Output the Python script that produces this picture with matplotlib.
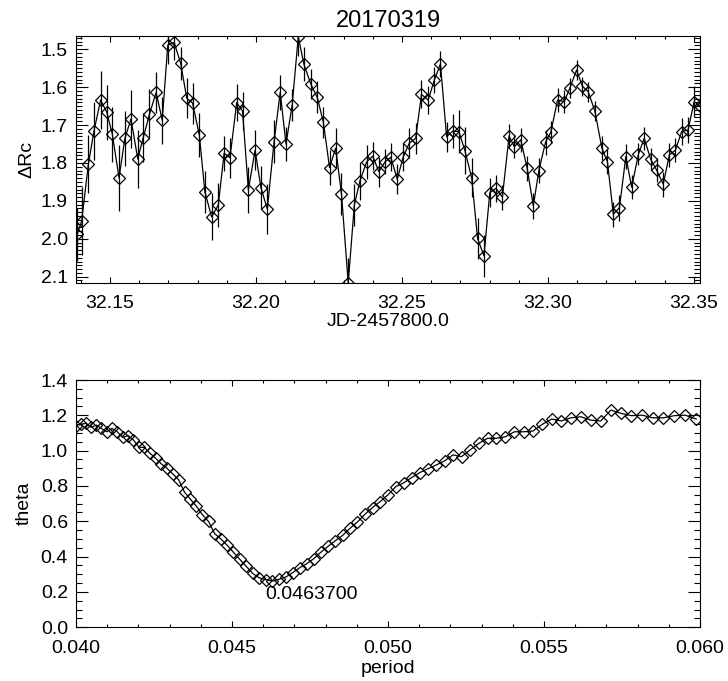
import matplotlib
matplotlib.use("Agg")
import matplotlib.pyplot as plt
from matplotlib.ticker import MultipleLocator, FormatStrFormatter

plt.rcParams['font.family'] = ['Liberation Sans', 'DejaVu Sans']

title = "20170319"

jd = [32.1388, 32.1403, 32.1426, 32.1445, 32.1468, 32.1489, 32.1508, 32.1531, 32.1551, 32.1572,
      32.1595, 32.1614, 32.1635, 32.1658, 32.1679, 32.1698, 32.1720, 32.1742, 32.1763, 32.1783,
      32.1806, 32.1825, 32.1848, 32.1871, 32.1891, 32.1911, 32.1934, 32.1954, 32.1974, 32.1997,
      32.2017, 32.2039, 32.2062, 32.2083, 32.2103, 32.2124, 32.2145, 32.2164, 32.2188, 32.2210,
      32.2231, 32.2252, 32.2273, 32.2293, 32.2316, 32.2337, 32.2356, 32.2379, 32.2400, 32.2421,
      32.2442, 32.2462, 32.2484, 32.2504, 32.2525, 32.2547, 32.2567, 32.2590, 32.2611, 32.2632,
      32.2653, 32.2674, 32.2695, 32.2716, 32.2739, 32.2759, 32.2781, 32.2801, 32.2822, 32.2844,
      32.2867, 32.2885, 32.2907, 32.2929, 32.2950, 32.2969, 32.2992, 32.3010, 32.3033, 32.3056,
      32.3075, 32.3098, 32.3118, 32.3138, 32.3161, 32.3185, 32.3204, 32.3224, 32.3245, 32.3267,
      32.3287, 32.3310, 32.3330, 32.3352, 32.3372, 32.3395, 32.3416, 32.3437, 32.3458, 32.3480,
      32.3501, 32.3521]

dmag = [1.988, 1.953, 1.803, 1.716, 1.634, 1.666, 1.724, 1.839, 1.735, 1.684,
        1.789, 1.733, 1.672, 1.614, 1.687, 1.489, 1.482, 1.537, 1.629, 1.642,
        1.726, 1.876, 1.942, 1.911, 1.774, 1.786, 1.641, 1.663, 1.871, 1.766,
        1.865, 1.922, 1.744, 1.614, 1.750, 1.647, 1.467, 1.539, 1.592, 1.627,
        1.693, 1.812, 1.761, 1.882, 2.116, 1.911, 1.848, 1.797, 1.782, 1.823,
        1.797, 1.785, 1.843, 1.785, 1.748, 1.735, 1.619, 1.634, 1.581, 1.539,
        1.731, 1.716, 1.717, 1.768, 1.839, 1.999, 2.045, 1.878, 1.867, 1.890,
        1.729, 1.757, 1.739, 1.814, 1.913, 1.820, 1.745, 1.719, 1.634, 1.638,
        1.603, 1.555, 1.597, 1.612, 1.663, 1.761, 1.797, 1.935, 1.918, 1.783,
        1.864, 1.777, 1.735, 1.790, 1.818, 1.856, 1.779, 1.766, 1.717, 1.713,
        1.638, 1.650]

dmag_err = [0.070, 0.090, 0.077, 0.076, 0.076, 0.073, 0.073, 0.087, 0.073, 0.077,
            0.077, 0.064, 0.066, 0.055, 0.062, 0.050, 0.045, 0.044, 0.053, 0.054,
            0.057, 0.055, 0.062, 0.059, 0.046, 0.053, 0.049, 0.050, 0.060, 0.053,
            0.056, 0.066, 0.057, 0.045, 0.045, 0.042, 0.050, 0.046, 0.040, 0.042,
            0.042, 0.046, 0.053, 0.055, 0.065, 0.055, 0.050, 0.044, 0.037, 0.040,
            0.033, 0.037, 0.040, 0.037, 0.040, 0.040, 0.037, 0.037, 0.035, 0.034,
            0.040, 0.045, 0.056, 0.062, 0.052, 0.054, 0.056, 0.039, 0.036, 0.033,
            0.032, 0.031, 0.031, 0.033, 0.035, 0.033, 0.033, 0.029, 0.031, 0.030,
            0.026, 0.026, 0.025, 0.026, 0.027, 0.031, 0.033, 0.033, 0.034, 0.032,
            0.031, 0.029, 0.031, 0.029, 0.031, 0.033, 0.031, 0.032, 0.035, 0.035,
            0.042, 0.040]

period = [0.040000, 0.040161, 0.040323, 0.040486, 0.040650, 0.040816, 0.040984, 0.041152, 0.041322, 0.041494,
          0.041667, 0.041841, 0.042017, 0.042194, 0.042373, 0.042553, 0.042735, 0.042918, 0.043103, 0.043290,
          0.043478, 0.043668, 0.043860, 0.044053, 0.044248, 0.044444, 0.044643, 0.044843, 0.045045, 0.045249,
          0.045455, 0.045662, 0.045872, 0.046083, 0.046296, 0.046512, 0.046729, 0.046948, 0.047170, 0.047393,
          0.047619, 0.047847, 0.048077, 0.048309, 0.048544, 0.048780, 0.049020, 0.049261, 0.049505, 0.049751,
          0.050000, 0.050251, 0.050505, 0.050761, 0.051020, 0.051282, 0.051546, 0.051813, 0.052083, 0.052356,
          0.052632, 0.052910, 0.053191, 0.053476, 0.053763, 0.054054, 0.054348, 0.054645, 0.054945, 0.055249,
          0.055556, 0.055866, 0.056180, 0.056497, 0.056818, 0.057143, 0.057471, 0.057803, 0.058140, 0.058480,
          0.058824, 0.059172, 0.059524, 0.059880]

theta = [1.140, 1.150, 1.154, 1.132, 1.145, 1.126, 1.107, 1.126, 1.107, 1.075,
         1.085, 1.060, 1.020, 1.018, 0.985, 0.957, 0.925, 0.900, 0.868, 0.835,
         0.765, 0.725, 0.685, 0.637, 0.599, 0.530, 0.500, 0.465, 0.425, 0.385,
         0.345, 0.305, 0.280, 0.270, 0.262, 0.272, 0.285, 0.310, 0.337, 0.360,
         0.388, 0.425, 0.458, 0.490, 0.520, 0.560, 0.596, 0.640, 0.678, 0.712,
         0.750, 0.797, 0.818, 0.848, 0.876, 0.898, 0.919, 0.942, 0.976, 0.966,
         1.004, 1.041, 1.070, 1.070, 1.079, 1.107, 1.107, 1.111, 1.149, 1.179,
         1.168, 1.186, 1.192, 1.173, 1.168, 1.230, 1.211, 1.198, 1.201, 1.186,
         1.186, 1.198, 1.201, 1.179]

best_period_label = "0.0463700"
best_period_pos = (0.04605, 0.162)

FS = 14
W, H = 728, 681
fig = plt.figure(figsize=(W / 100, H / 100), dpi=100)

def frac(l, t, r, b):
    return [l / W, 1 - b / H, (r - l) / W, (b - t) / H]

ax1 = fig.add_axes(frac(76, 36, 700, 283))
ax2 = fig.add_axes(frac(76, 380, 700, 627.3))

# top panel
ax1.errorbar(jd, dmag, yerr=dmag_err, fmt='none', ecolor='black', elinewidth=0.9)
ax1.plot(jd, dmag, '-', color='black', lw=0.9, marker='D', ms=6.2,
         mfc='none', mec='black', mew=0.9)
ax1.set_xlim(32.13836, 32.3521)
ax1.set_ylim(2.1166, 1.4650)
ax1.xaxis.set_major_locator(MultipleLocator(0.05))
ax1.xaxis.set_minor_locator(MultipleLocator(0.01))
ax1.yaxis.set_major_locator(MultipleLocator(0.1))
ax1.yaxis.set_minor_locator(MultipleLocator(0.01))
ax1.xaxis.set_major_formatter(FormatStrFormatter('%.2f'))
ax1.yaxis.set_major_formatter(FormatStrFormatter('%.1f'))
ax1.set_title(title, fontsize=17, pad=6.7)
ax1.set_xlabel("JD-2457800.0", fontsize=FS, labelpad=0)
ax1.set_ylabel("\u0394Rc", fontsize=FS, va='center')
ax1.yaxis.set_label_coords(-0.0785, 0.5)

# bottom panel
ax2.plot(period, theta, '-', color='black', lw=0.9, marker='D', ms=6.2,
         mfc='none', mec='black', mew=0.9)
ax2.set_xlim(0.040, 0.060)
ax2.set_ylim(0.0, 1.4)
ax2.xaxis.set_major_locator(MultipleLocator(0.005))
ax2.xaxis.set_minor_locator(MultipleLocator(0.001))
ax2.yaxis.set_major_locator(MultipleLocator(0.2))
ax2.yaxis.set_minor_locator(MultipleLocator(0.05))
ax2.xaxis.set_major_formatter(FormatStrFormatter('%.3f'))
ax2.yaxis.set_major_formatter(FormatStrFormatter('%.1f'))
ax2.set_xlabel("period", fontsize=FS, labelpad=2)
ax2.set_ylabel("theta", fontsize=FS, va='center')
ax2.yaxis.set_label_coords(-0.0833, 0.5)
ax2.text(best_period_pos[0], best_period_pos[1], best_period_label,
         fontsize=FS, ha='left', va='baseline')

for ax in (ax1, ax2):
    for s in ax.spines.values():
        s.set_linewidth(0.8)
    ax.tick_params(which='both', direction='in', top=True, right=True,
                   width=0.8, labelsize=FS)
    ax.tick_params(axis='x', which='major', length=4.3, pad=9)
    ax.tick_params(axis='x', which='minor', length=2.2)
    ax.tick_params(axis='y', which='major', length=8.6, pad=5.8)
    ax.tick_params(axis='y', which='minor', length=4.3)

fig.savefig("out.png", dpi=100)
